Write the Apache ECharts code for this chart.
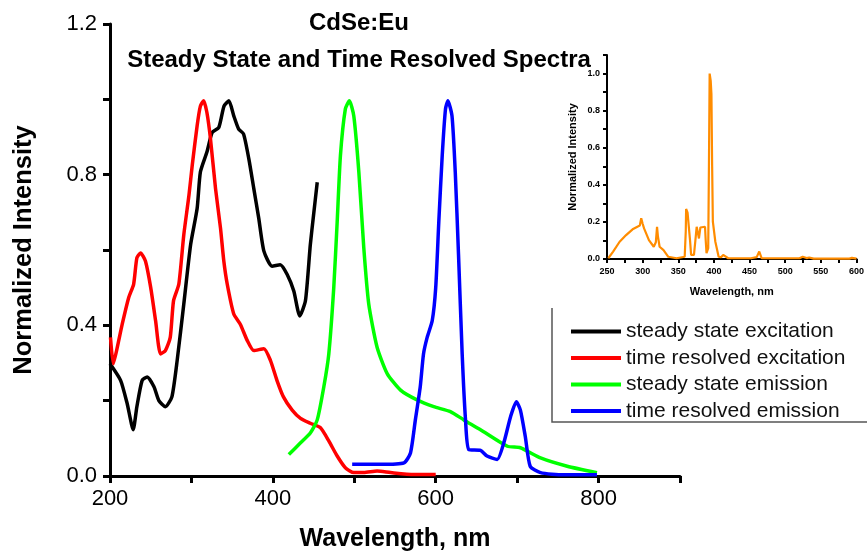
<!DOCTYPE html>
<html>
<head>
<meta charset="utf-8">
<script src="https://cdn.jsdelivr.net/npm/echarts@6/dist/echarts.min.js"></script>
<style>html,body{margin:0;padding:0;background:#fff}#c{width:867px;height:557px}</style>
</head>
<body>
<div id="c"></div>
<script>
// ---- data ----
const seriesNames = ['steady state excitation', 'time resolved excitation', 'steady state emission', 'time resolved emission'];

const sseWl = [200,213,221,228.5,233,239.5,245.7,254,260,268,276,282.5,290.6,299,307,311,319,325.5,333.6,340,346,352,358,364,370.5,376.6,382.7,389,399,409,417.6,425.7,433,440,446,450,454.5];
const sseVal = [0.298,0.254,0.193,0.123,0.184,0.254,0.263,0.237,0.20,0.184,0.21,0.307,0.456,0.614,0.71,0.807,0.86,0.912,0.925,0.982,0.996,0.956,0.921,0.908,0.842,0.763,0.684,0.597,0.557,0.561,0.535,0.491,0.425,0.465,0.614,0.693,0.78];

const treWl = [200.6,204,209,215,223,229,233,237.5,243.6,250,256,262,268,274,278,284.5,290.6,297,301,307,311,315,319,323.4,329.6,335.7,339.8,344,352,360,368.5,376.6,389,397,405,413,423.7,434,446,458.5,468.7,479,489,499.4,511.7,528,544.5,573,600];
const treVal = [0.368,0.298,0.342,0.403,0.474,0.509,0.579,0.592,0.570,0.5,0.412,0.324,0.333,0.368,0.465,0.509,0.640,0.746,0.825,0.93,0.982,0.996,0.965,0.895,0.763,0.658,0.570,0.509,0.43,0.403,0.36,0.333,0.338,0.307,0.254,0.21,0.175,0.153,0.14,0.128,0.093,0.053,0.022,0.009,0.009,0.013,0.009,0.004,0.004];

const ssemWl = [419.6,434,446,454.5,462.6,468.7,474.8,479,483,489,494,499.4,505.6,511.7,517.8,528,540.4,556.8,577,597.6,618,634.5,655,688,704,728.7,761.5,798];
const ssemVal = [0.057,0.088,0.114,0.149,0.237,0.324,0.5,0.675,0.851,0.974,0.996,0.956,0.807,0.605,0.456,0.342,0.272,0.228,0.202,0.184,0.171,0.149,0.123,0.079,0.075,0.048,0.026,0.009];

const tremWl = [497.4,532,561,569,575,581,585,589.5,595.7,600,603.8,608,612,615,620,624,628,632.5,636.6,640.6,655,663,675.5,683.6,692,699,704,710,716,728.7,757,798];
const tremVal = [0.031,0.031,0.035,0.061,0.149,0.237,0.324,0.368,0.412,0.5,0.675,0.851,0.974,0.996,0.956,0.807,0.588,0.324,0.149,0.07,0.068,0.053,0.044,0.088,0.158,0.197,0.175,0.105,0.026,0.009,0.003,0.003];

const insetWl = [251.8,258.6,267.7,276.8,285.9,292.7,296,298,300,302,308.8,315.6,318.5,320.2,321.5,323.8,329.3,336,347.5,359,360.5,361,363,365.5,366.5,368,372,374,375.8,379,381,383.5,387.5,388.5,389.6,392,393,394,395.5,396.5,397.5,398.5,402,406.6,410,413,415.8,420,452,460,463.6,467,520,524.5,530,533.7,540,590,593.6,600];
const insetVal = [0.004,0.04,0.093,0.129,0.16,0.174,0.18,0.22,0.19,0.165,0.102,0.066,0.09,0.174,0.12,0.066,0.048,0.012,0.004,0.012,0.15,0.27,0.25,0.255,0.1,0.022,0.022,0.1,0.174,0.111,0.17,0.174,0.174,0.1,0.031,0.058,0.5,1.0,0.96,0.89,0.5,0.201,0.093,0.012,0.01,0.022,0.022,0.004,0.004,0.01,0.04,0.004,0.004,0.012,0.005,0.008,0.002,0.002,0.006,0.002];

const mainYLabels = [0.0, 0.4, 0.8, 1.2];
const mainXLabels = [200, 400, 600, 800];
const insetYLabels = [0.0, 0.2, 0.4, 0.6, 0.8, 1.0];
const insetXLabels = [250, 300, 350, 400, 450, 500, 550, 600];

// ---- chart ----
const pairs = (xs, ys) => xs.map((x, i) => [x, ys[i]]);
const near = (v, list) => list.some(l => Math.abs(l - v) < 1e-6);
const F = 'Liberation Sans, Arial, sans-serif';

const chart = echarts.init(document.getElementById('c'), null, {renderer: 'canvas'});
const axisBlack = {lineStyle: {color: '#000', width: 3}};

chart.setOption({
  animation: false,
  backgroundColor: '#fff',
  title: {
    text: 'CdSe:Eu\nSteady State and Time Resolved Spectra',
    left: 354, top: 0, textAlign: 'center',
    textStyle: {fontFamily: F, fontWeight: 'bold', fontSize: 24, lineHeight: 37, color: '#000'}
  },
  legend: {
    data: seriesNames,
    orient: 'vertical',
    left: 566, top: 316,
    icon: 'rect', itemWidth: 50, itemHeight: 4, itemGap: 5.5,
    textStyle: {fontFamily: F, fontSize: 21, lineHeight: 21, color: '#111'}
  },
  grid: [
    {left: 110, right: 187, top: 24, bottom: 77},
    {left: 607, right: 4, top: 55, bottom: 298}
  ],
  xAxis: [
    {
      type: 'value', gridIndex: 0, min: 200, max: 900, interval: 100,
      name: 'Wavelength, nm', nameLocation: 'middle', nameGap: 51,
      nameTextStyle: {fontFamily: F, fontWeight: 'bold', fontSize: 25, color: '#000'},
      axisLine: axisBlack,
      axisTick: {show: true, length: 7, lineStyle: {color: '#000', width: 3}},
      axisLabel: {fontFamily: F, fontSize: 22, color: '#000', margin: 12,
        formatter: v => near(v, mainXLabels) ? String(v) : ''},
      splitLine: {show: false}
    },
    {
      type: 'value', gridIndex: 1, min: 250, max: 600, interval: 25,
      name: 'Wavelength, nm', nameLocation: 'middle', nameGap: 27,
      nameTextStyle: {fontFamily: F, fontWeight: 'bold', fontSize: 11, color: '#000'},
      axisLine: {lineStyle: {color: '#000', width: 2}},
      axisTick: {show: true, length: 4, lineStyle: {color: '#000', width: 2}},
      axisLabel: {fontFamily: F, fontWeight: 'bold', fontSize: 9, color: '#000', margin: 8,
        formatter: v => near(v, insetXLabels) ? String(v) : ''},
      splitLine: {show: false}
    }
  ],
  yAxis: [
    {
      type: 'value', gridIndex: 0, min: 0, max: 1.2, interval: 0.2,
      name: 'Normalized Intensity', nameLocation: 'middle', nameGap: 73,
      nameTextStyle: {fontFamily: F, fontWeight: 'bold', fontSize: 25.5, color: '#000'},
      axisLine: {show: true, lineStyle: {color: '#000', width: 3}},
      axisTick: {show: true, length: 7, lineStyle: {color: '#000', width: 3}},
      axisLabel: {fontFamily: F, fontSize: 22, color: '#000', margin: 13,
        formatter: v => near(v, mainYLabels) ? v.toFixed(1) : ''},
      splitLine: {show: false}
    },
    {
      type: 'value', gridIndex: 1, min: 0, max: 1.1, interval: 0.1,
      name: 'Normalized Intensity', nameLocation: 'middle', nameGap: 29,
      nameTextStyle: {fontFamily: F, fontWeight: 'bold', fontSize: 11, color: '#000'},
      axisLine: {show: true, lineStyle: {color: '#000', width: 2}},
      axisTick: {show: true, length: 4, lineStyle: {color: '#000', width: 2}},
      axisLabel: {fontFamily: F, fontWeight: 'bold', fontSize: 9, color: '#000', margin: 7,
        formatter: v => near(v, insetYLabels) ? v.toFixed(1) : ''},
      splitLine: {show: false}
    }
  ],
  series: [
    {name: seriesNames[0], type: 'line', xAxisIndex: 0, yAxisIndex: 0, showSymbol: false, smooth: 0.2,
     data: pairs(sseWl, sseVal), itemStyle: {color: '#000'}, lineStyle: {color: '#000', width: 3.5}},
    {name: seriesNames[1], type: 'line', xAxisIndex: 0, yAxisIndex: 0, showSymbol: false, smooth: 0.2,
     data: pairs(treWl, treVal), itemStyle: {color: '#ff0000'}, lineStyle: {color: '#ff0000', width: 3.5}},
    {name: seriesNames[2], type: 'line', xAxisIndex: 0, yAxisIndex: 0, showSymbol: false, smooth: 0.2,
     data: pairs(ssemWl, ssemVal), itemStyle: {color: '#00ff00'}, lineStyle: {color: '#00ff00', width: 3.5}},
    {name: seriesNames[3], type: 'line', xAxisIndex: 0, yAxisIndex: 0, showSymbol: false, smooth: 0.2,
     data: pairs(tremWl, tremVal), itemStyle: {color: '#0000ff'}, lineStyle: {color: '#0000ff', width: 3.5}},
    {name: 'inset', type: 'line', xAxisIndex: 1, yAxisIndex: 1, showSymbol: false,
     data: pairs(insetWl, insetVal), itemStyle: {color: '#ff8c00'}, lineStyle: {color: '#ff8c00', width: 2.2}}
  ],
  graphic: [
    {type: 'polyline', shape: {points: [[552, 308], [552, 422], [867, 422]]},
     style: {stroke: '#555', lineWidth: 1.5, fill: null}, silent: true}
  ]
});
</script>
</body>
</html>
